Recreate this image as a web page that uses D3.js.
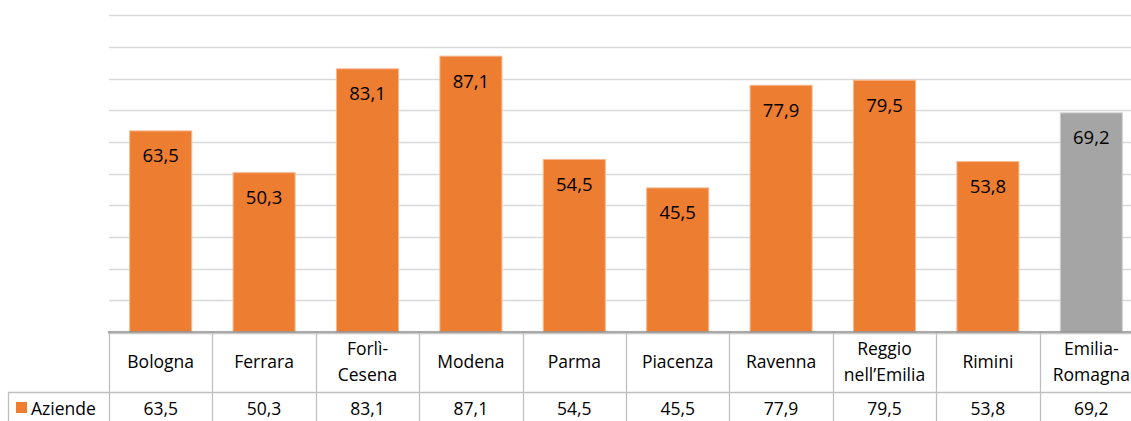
<!DOCTYPE html>
<html>
<head>
<meta charset="utf-8">
<script src="https://cdn.jsdelivr.net/npm/d3@7"></script>
<style>
  html, body { margin: 0; padding: 0; background: #fff; overflow: hidden; }
  svg { display: block; font-family: "Open Sans", "Noto Sans", sans-serif; }
</style>
</head>
<body>
<svg id="chart" width="1131" height="421"></svg>
<script>
const categories = ["Bologna", "Ferrara", "Forlì-Cesena", "Modena", "Parma", "Piacenza", "Ravenna", "Reggio nell’Emilia", "Rimini", "Emilia-Romagna"];
const categoryLines = [["Bologna"], ["Ferrara"], ["Forlì-", "Cesena"], ["Modena"], ["Parma"], ["Piacenza"], ["Ravenna"], ["Reggio", "nell’Emilia"], ["Rimini"], ["Emilia-", "Romagna"]];
const seriesName = "Aziende";
const values = [63.5, 50.3, 83.1, 87.1, 54.5, 45.5, 77.9, 79.5, 53.8, 69.2];
const yTicks = [0, 10, 20, 30, 40, 50, 60, 70, 80, 90, 100];
const totalCategory = "Emilia-Romagna";

(function () {
const svg = d3.select("#chart");
const plotLeft = 109, plotRight = 1143, plotTop = 15.3, base = 332;
const headerBottom = 392, tableBottom = 421, legendLeft = 8;

const x = d3.scaleBand().domain(categories).range([plotLeft, plotRight]).paddingInner(0.4).paddingOuter(0.2);
const y = d3.scaleLinear().domain([0, 100]).range([base, plotTop]);
const fmt = v => d3.format(".1f")(v).replace(".", ",");

// gridlines
svg.append("g").selectAll("line").data(yTicks.filter(t => t > 0)).join("line")
  .attr("x1", plotLeft).attr("x2", plotRight)
  .attr("y1", d => Math.round(y(d)) + 0.5).attr("y2", d => Math.round(y(d)) + 0.5)
  .attr("stroke", "#d9d9d9").attr("stroke-width", 1.3);

// bars
svg.append("g").selectAll("rect").data(categories).join("rect")
  .attr("x", d => x(d))
  .attr("y", (d, i) => y(values[i]))
  .attr("width", x.bandwidth())
  .attr("height", (d, i) => base - y(values[i]))
  .attr("fill", d => d === totalCategory ? "#a5a5a5" : "#ed7d31")
  .attr("stroke", d => d === totalCategory ? "#d2d2d2" : "#f5b88f")
  .attr("stroke-width", 1);

// bar labels
svg.append("g").selectAll("text").data(categories).join("text")
  .attr("x", d => x(d) + x.bandwidth() / 2)
  .attr("y", (d, i) => y(values[i]) + 31.5)
  .attr("text-anchor", "middle")
  .attr("font-size", 18.5)
  .attr("fill", "#000")
  .text((d, i) => fmt(values[i]));

// data table
const step = x.step();
const cellLeft = d => x(d) - x.paddingInner() * step / 2;
const tg = svg.append("g");
const vx = categories.map(cellLeft).concat([plotRight]);
tg.selectAll("line.v").data(vx).join("line")
  .attr("class", "v")
  .attr("x1", d => Math.round(d) + 0.5).attr("x2", d => Math.round(d) + 0.5)
  .attr("y1", base).attr("y2", tableBottom)
  .attr("stroke", "#bfbfbf").attr("stroke-width", 1.3);
tg.append("line").attr("x1", legendLeft).attr("x2", plotRight)
  .attr("y1", headerBottom + 0.5).attr("y2", headerBottom + 0.5)
  .attr("stroke", "#bfbfbf").attr("stroke-width", 1.3);
tg.append("line").attr("x1", legendLeft + 0.5).attr("x2", legendLeft + 0.5)
  .attr("y1", headerBottom).attr("y2", tableBottom)
  .attr("stroke", "#bfbfbf").attr("stroke-width", 1.3);
tg.append("line").attr("x1", plotLeft - 1).attr("x2", plotRight)
  .attr("y1", base).attr("y2", base)
  .attr("stroke", "#8c8c8c").attr("stroke-width", 1.4);
tg.append("line").attr("x1", plotLeft - 1).attr("x2", plotRight)
  .attr("y1", base + 1.6).attr("y2", base + 1.6)
  .attr("stroke", "#c8c8c8").attr("stroke-width", 1.2);

// category labels
const headerMid = (base + headerBottom) / 2;
const lineH = 26;
const catG = tg.append("g").selectAll("text").data(categories).join("text")
  .attr("text-anchor", "middle")
  .attr("font-size", 17.5)
  .attr("fill", "#000");
catG.each(function (d, i) {
  const lines = categoryLines[i];
  const t = d3.select(this);
  const cx = x(d) + x.bandwidth() / 2;
  const y0 = headerMid - (lines.length - 1) * lineH / 2 + 6;
  lines.forEach((ln, k) => {
    t.append("tspan").attr("x", cx).attr("y", y0 + k * lineH).text(ln);
  });
});

// values row
tg.append("g").selectAll("text").data(categories).join("text")
  .attr("x", d => x(d) + x.bandwidth() / 2)
  .attr("y", 415)
  .attr("text-anchor", "middle")
  .attr("font-size", 17.5)
  .attr("fill", "#000")
  .text((d, i) => fmt(values[i]));

// legend key
tg.append("rect").attr("x", 16).attr("y", 402).attr("width", 11).attr("height", 11)
  .attr("fill", "#ed7d31");
tg.append("text").attr("x", 31).attr("y", 415)
  .attr("font-size", 17.5).attr("fill", "#000").text(seriesName);
})();
</script>
</body>
</html>
